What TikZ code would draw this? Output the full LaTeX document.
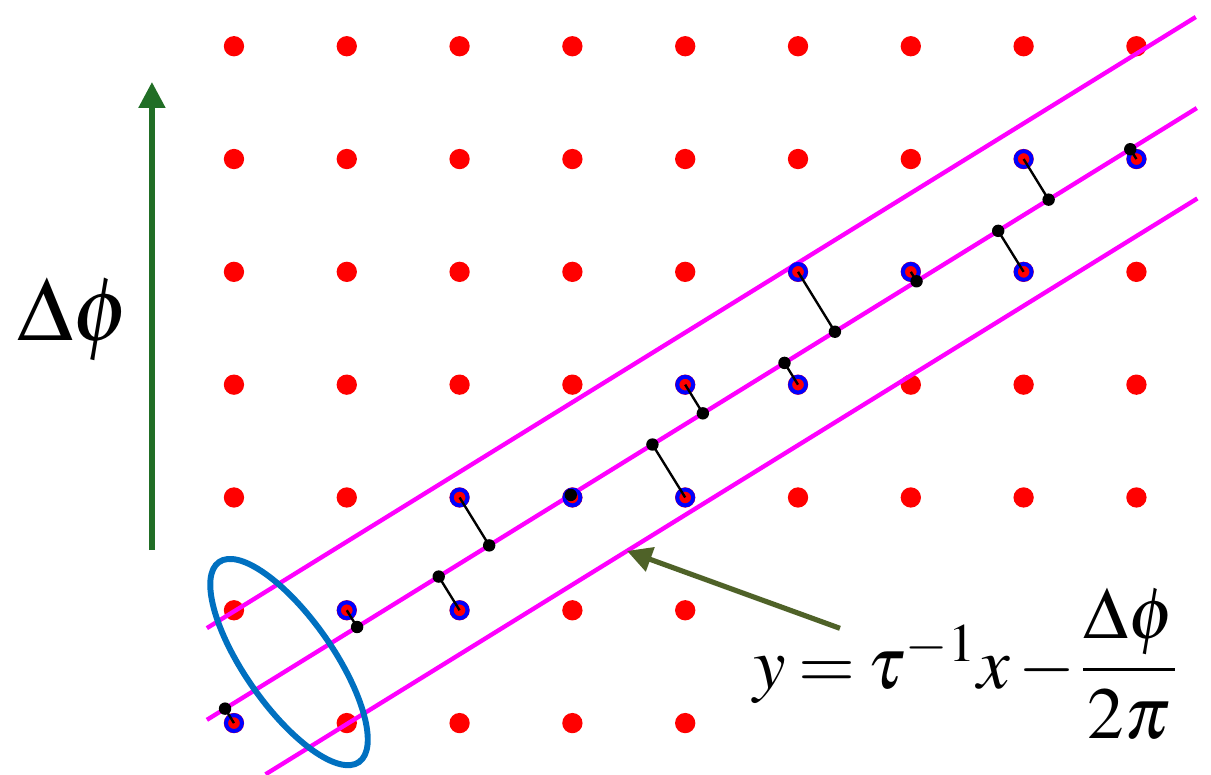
\documentclass[tikz,border=0pt]{standalone}
\usepackage{mathptmx}
\usetikzlibrary{arrows.meta,calc}

\definecolor{cutMag}{RGB}{255,0,255}
\definecolor{ringBlue}{RGB}{0,112,192}
\definecolor{axisGreen}{RGB}{33,110,38}
\definecolor{noteOlive}{RGB}{79,98,40}

\begin{document}
\begin{tikzpicture}[
  lat/.style={circle, fill=red, inner sep=0pt, minimum size=1.8mm},
  acc/.style={circle, fill=red, draw=blue, line width=1pt,
    inner sep=0pt, minimum size=1.4mm},
  foot/.style={circle, fill=black, inner sep=0pt, minimum size=1.1mm},
  proj/.style={black, line width=0.6pt},
  cut/.style={cutMag, line width=1.1pt},
]

\def\cw{1}
\def\ts{0.618}   % slope 1/tau
\useasboundingbox (-2.074,-0.452) rectangle (8.661,6.410);

% ── square lattice ───────────────────────────────────────
\foreach \j in {2,...,6}
  \foreach \i in {0,...,8}
    \node[lat] (p-\i-\j) at (\i*\cw, \j*\cw) {};
\foreach \j in {0,1}
  \foreach \i in {0,...,4}
    \node[lat] (p-\i-\j) at (\i*\cw, \j*\cw) {};

% ── strip : upper, middle and lower cut ─────────────────
\coordinate (up1) at (-0.24, {-0.24*\ts+0.99});
\coordinate (up2) at (8.526, {8.526*\ts+0.99});
\coordinate (mid1) at (-0.24, {-0.24*\ts+0.177});
\coordinate (mid2) at (8.535, {8.535*\ts+0.177});
\coordinate (lo1) at (0.28, {0.28*\ts-0.627});
\coordinate (lo2) at (8.54, {8.54*\ts-0.627});
\draw[cut] (up1) -- (up2);
\draw[cut] (mid1) -- (mid2);
\draw[cut] (lo1) -- (lo2);

% ── points inside the strip, projected on the middle cut ─
\foreach \i/\j in {0/0, 1/1, 2/1, 2/2, 3/2, 4/2, 4/3,
                   5/3, 5/4, 6/4, 7/4, 7/5, 8/5} {
  \node[acc] (b-\i-\j) at (p-\i-\j) {};
  \coordinate (q-\i-\j) at ($(mid1)!(b-\i-\j.center)!(mid2)$);
  \draw[proj] (b-\i-\j.center) -- (q-\i-\j);
  \node[foot] (f-\i-\j) at (q-\i-\j) {};
}

% ── window ellipse ───────────────────────────────────────
\draw[ringBlue, line width=1.5pt, shift={(0.488,0.541)}, rotate=-55]
  (0,0) ellipse [x radius=1.082, y radius=0.39];

% ── phase axis ───────────────────────────────────────────
\coordinate (ax0) at (-0.727, 1.534);
\coordinate (ax1) at (-0.727, 5.683);
\draw[axisGreen, line width=1.3pt, -{Triangle[length=2.3mm, width=2.3mm]}]
  (ax0) -- (ax1);
\node[anchor=base, inner sep=0pt, font=\fontsize{23}{28}\selectfont]
  (dphi) at (-1.42, 3.395) {$\Delta\phi$};

% ── equation of the lower cut ────────────────────────────
\node[anchor=base west, inner sep=0pt, font=\fontsize{18.5}{22}\selectfont]
  (eq) at (4.60, 0.31)
  {\thickmuskip=3mu \medmuskip=2mu \nulldelimiterspace=0pt
   $y=\tau^{-1}x-\displaystyle\frac{\Delta\phi}{2\pi}$};
\coordinate (tail) at (5.372, 0.840);
\coordinate (hit) at (3.484, {3.484*\ts-0.627});
\draw[noteOlive, line width=1.3pt, -{Triangle[length=2.2mm, width=2.2mm]}]
  (tail) -- (hit);

\end{tikzpicture}
\end{document}
